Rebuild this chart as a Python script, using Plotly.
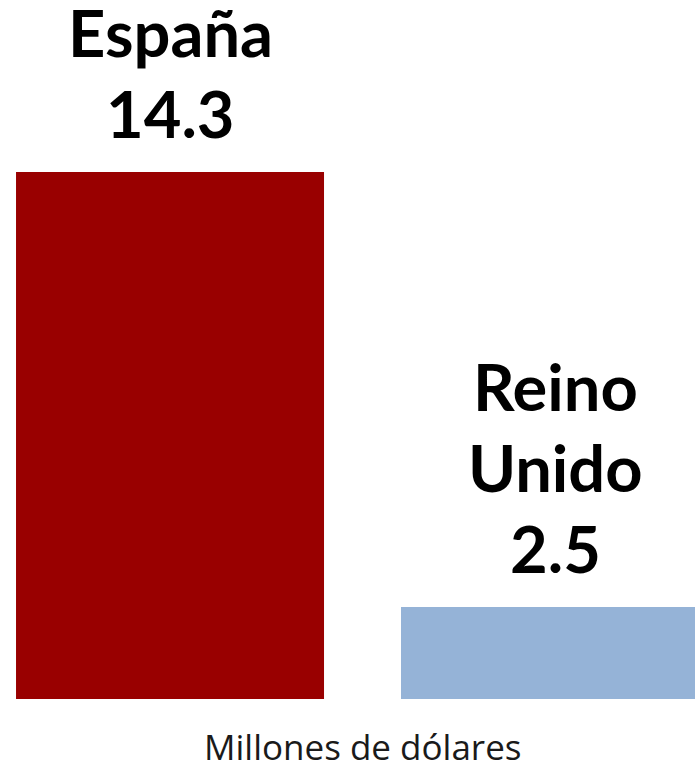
import plotly.graph_objects as go

# data
countries = ['España', 'Reino Unido']
values = [14.3, 2.5]
colors = ['#990000', '#95B3D7']
unit_label = 'Millones de dólares'

x_pos = list(range(len(countries)))

fig = go.Figure()

fig.add_trace(go.Bar(
    x=x_pos,
    y=values,
    width=0.8,
    marker=dict(color=colors, line=dict(width=0)),
    hoverinfo='skip',
    showlegend=False
))

# country name and value stacked above each bar, one annotation per line
line_step = 81
for x, name, val in zip(x_pos, countries, values):
    lines = name.split(' ') + [str(val)]
    for k, txt in enumerate(reversed(lines)):
        fig.add_annotation(
            x=x, y=val,
            xref='x', yref='y',
            text=f"<b>{txt}</b>",
            showarrow=False,
            xanchor='center', yanchor='bottom',
            yshift=18 + k * line_step,
            font=dict(family='Lato', size=65, color='black')
        )

fig.add_annotation(
    x=0.521, y=0,
    xref='paper', yref='paper',
    text=unit_label,
    showarrow=False,
    xanchor='center', yanchor='top',
    yshift=-22,
    font=dict(family='Open Sans', size=35, color='#1a1a1a')
)

fig.update_layout(
    width=695, height=770,
    margin=dict(l=0, r=0, t=0, b=71),
    paper_bgcolor='white',
    plot_bgcolor='white',
    xaxis=dict(range=[-0.4416, 1.3636], visible=False, fixedrange=True),
    yaxis=dict(range=[0, 18.97], visible=False, fixedrange=True),
    bargap=0.2
)

# drop the default 8px body margin so the figure sits flush in the window
fig.write_html(
    "out.html",
    config={'displayModeBar': False},
    post_script="document.body.style.margin='0';"
)
